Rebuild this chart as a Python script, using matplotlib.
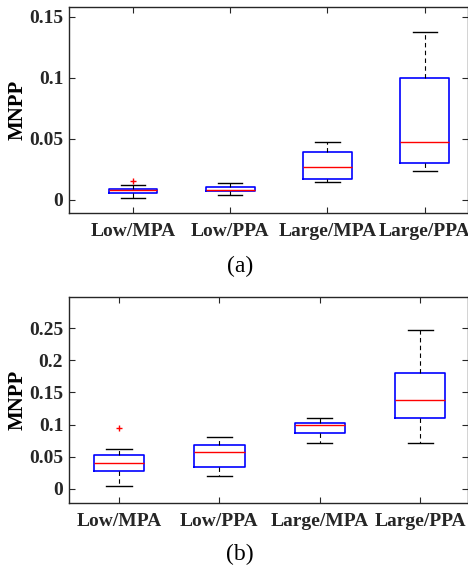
import matplotlib
matplotlib.use("Agg")
import matplotlib.pyplot as plt

plt.rcParams['font.family'] = ['Liberation Serif', 'DejaVu Serif']

groups = ['Low/MPA', 'Low/PPA', 'Large/MPA', 'Large/PPA']

# panel (a): whisker low, q1, median, q3, whisker high, outliers
a_low = [0.0014, 0.0041, 0.0145, 0.0235]
a_q1 = [0.0055, 0.0071, 0.0170, 0.0298]
a_med = [0.0076, 0.0080, 0.0268, 0.0473]
a_q3 = [0.0087, 0.0104, 0.0390, 0.1000]
a_high = [0.0120, 0.0137, 0.0470, 0.1377]
a_out = [[0.0153], [], [], []]

# panel (b)
b_low = [0.0047, 0.0191, 0.0716, 0.0716]
b_q1 = [0.0274, 0.0331, 0.0871, 0.1105]
b_med = [0.0398, 0.0565, 0.0985, 0.1385]
b_q3 = [0.0518, 0.0678, 0.1020, 0.1805]
b_high = [0.0622, 0.0809, 0.1105, 0.2474]
b_out = [[0.0949], [], [], []]

a_ticks = [0, 0.05, 0.1, 0.15]
a_ticklabels = ['0', '0.05', '0.1', '0.15']
b_ticks = [0, 0.05, 0.1, 0.15, 0.2, 0.25]
b_ticklabels = ['0', '0.05', '0.1', '0.15', '0.2', '0.25']


def make_stats(low, q1, med, q3, high, out):
    return [dict(whislo=l, q1=a, med=m, q3=b, whishi=h, fliers=f, label=g)
            for l, a, m, b, h, f, g in zip(low, q1, med, q3, high, out, groups)]


def draw_panel(ax, stats, ticks, ticklabels, ylim, xlim, tag, tag_y):
    ax.bxp(stats, widths=0.5, showfliers=True,
           boxprops=dict(color='blue', linewidth=1.2),
           medianprops=dict(color='red', linewidth=1.0),
           whiskerprops=dict(color='black', linestyle=(0, (4, 3)), linewidth=0.8),
           capprops=dict(color='black', linewidth=1.0),
           flierprops=dict(marker='+', markeredgecolor='red', markersize=5,
                           markeredgewidth=1.0, linestyle='none'),
           capwidths=0.25)
    ax.set_xlim(*xlim)
    ax.set_ylim(*ylim)
    ax.set_yticks(ticks)
    ax.set_yticklabels(ticklabels, fontsize=14, fontweight='bold')
    ax.set_xticks([1, 2, 3, 4])
    ax.set_xticklabels(groups, fontsize=14, fontweight='bold')
    ax.set_ylabel('MNPP', fontsize=15, fontweight='bold', labelpad=1)
    ax.tick_params(direction='in', top=True, right=True, length=4,
                   width=0.8, colors='#262626')
    ax.tick_params(axis='x', pad=7)
    ax.tick_params(axis='y', pad=4)
    for s in ax.spines.values():
        s.set_color('#262626')
        s.set_linewidth(1.0)
    ax.text(0.43, tag_y, tag, transform=ax.transAxes,
            ha='center', va='center', fontsize=17)


fig = plt.figure(figsize=(4.68, 5.72), dpi=100)
ax1 = fig.add_axes([0.147, 0.628, 0.852, 0.360])
ax2 = fig.add_axes([0.147, 0.121, 0.852, 0.360])

draw_panel(ax1, make_stats(a_low, a_q1, a_med, a_q3, a_high, a_out),
           a_ticks, a_ticklabels, (-0.0107, 0.158), (0.34, 4.44), '(a)', -0.26)
draw_panel(ax2, make_stats(b_low, b_q1, b_med, b_q3, b_high, b_out),
           b_ticks, b_ticklabels, (-0.022, 0.299), (0.5, 4.47), '(b)', -0.25)

fig.savefig('out.png', dpi=100)
